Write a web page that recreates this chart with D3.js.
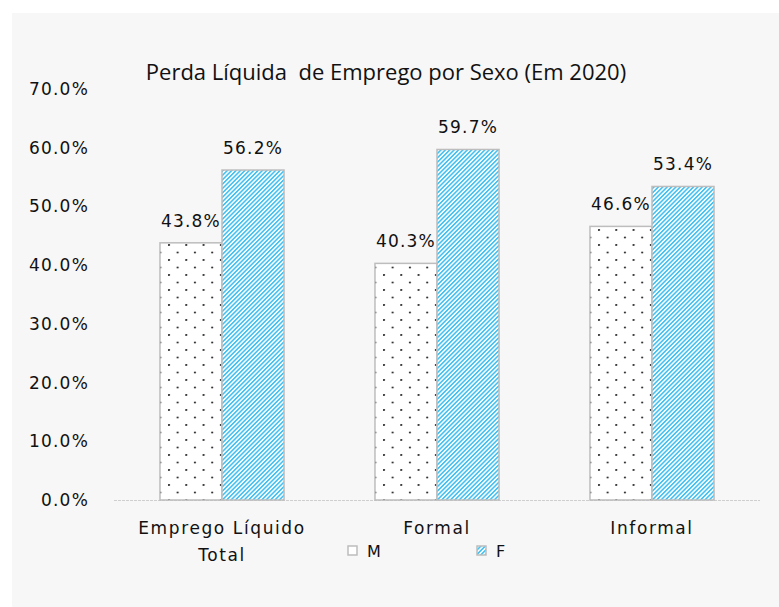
<!DOCTYPE html>
<html>
<head>
<meta charset="utf-8">
<script src="https://cdn.jsdelivr.net/npm/d3@7"></script>
<style>
  html, body { margin: 0; padding: 0; background: #ffffff; }
  svg { display: block; }
</style>
</head>
<body>
<script>
// ---- data ----
const categories = ["Emprego Líquido Total", "Formal", "Informal"];
const seriesNames = ["M", "F"];
const valuesM = [43.8, 40.3, 46.6];
const valuesF = [56.2, 59.7, 53.4];
const yTicks = [0, 10, 20, 30, 40, 50, 60, 70];
const titleText = "Perda Líquida  de Emprego por Sexo (Em 2020)";

const W = 779, H = 607;
const svg = d3.select("body").append("svg").attr("width", W).attr("height", H);

// patterns
const defs = svg.append("defs");
const dots = defs.append("pattern").attr("id", "dots").attr("patternUnits", "userSpaceOnUse")
  .attr("width", 17.3).attr("height", 15).attr("x", 8).attr("y", 4);
dots.append("rect").attr("width", 17.3).attr("height", 15).attr("fill", "#ffffff");
dots.append("circle").attr("cx", 1).attr("cy", 1).attr("r", 1.1).attr("fill", "#333333");
dots.append("circle").attr("cx", 9.65).attr("cy", 8.5).attr("r", 1.1).attr("fill", "#333333");

const hatch = defs.append("pattern").attr("id", "hatch").attr("patternUnits", "userSpaceOnUse")
  .attr("width", 3.1).attr("height", 3.1).attr("patternTransform", "rotate(45)");
hatch.append("rect").attr("width", 3.1).attr("height", 3.1).attr("fill", "#ffffff");
hatch.append("line").attr("x1", 0.8).attr("y1", -1).attr("x2", 0.8).attr("y2", 5)
  .attr("stroke", "#45c1f2").attr("stroke-width", 1.6);

// background
svg.append("rect").attr("x", 12).attr("y", 13).attr("width", W - 12).attr("height", H - 13).attr("fill", "#f7f7f7");

// scales
const y = d3.scaleLinear().domain([0, 70]).range([500, 89]);
const x0 = d3.scaleBand().domain(categories).range([114.5, 759.5]).paddingInner(0.423).paddingOuter(0.2115);
const x1 = d3.scaleBand().domain(seriesNames).range([0, x0.bandwidth()]);

const fills = { M: "url(#dots)", F: "url(#hatch)" };
const rows = categories.map((c, i) => ({ cat: c, vals: [{ s: "M", v: valuesM[i] }, { s: "F", v: valuesF[i] }] }));
const textColor = "#111111";

// title
svg.append("text").attr("x", 386).attr("y", 80).attr("text-anchor", "middle")
  .attr("font-family", "Open Sans").attr("font-size", 22).attr("fill", textColor)
  .attr("xml:space", "preserve").text(titleText);

// y axis labels
const yAxis = d3.axisLeft(y).tickValues(yTicks).tickSize(0).tickPadding(0)
  .tickFormat(d => d3.format(".1f")(d) + "%");
const gy = svg.append("g").attr("transform", "translate(89,0)").call(yAxis);
gy.select(".domain").remove();
gy.selectAll("text").attr("font-family", "DejaVu Sans").attr("font-size", 17)
  .attr("letter-spacing", 1.2).attr("fill", textColor);

// baseline
svg.append("line").attr("x1", 114).attr("x2", 760).attr("y1", y(0) + 0.5).attr("y2", y(0) + 0.5)
  .attr("stroke", "#cfcfcf").attr("stroke-width", 1).attr("stroke-dasharray", "3,1");

// bars
const groups = svg.selectAll("g.grp").data(rows).join("g").attr("class", "grp")
  .attr("transform", d => `translate(${x0(d.cat)},0)`);
groups.selectAll("rect").data(d => d.vals).join("rect")
  .attr("x", d => x1(d.s)).attr("width", x1.bandwidth())
  .attr("y", d => y(d.v)).attr("height", d => y(0) - y(d.v))
  .attr("fill", d => fills[d.s]).attr("stroke", "#bdbdbd").attr("stroke-width", 1.5);

// value labels
groups.selectAll("text.val").data(d => d.vals).join("text").attr("class", "val")
  .attr("x", d => x1(d.s) + x1.bandwidth() / 2).attr("y", d => y(d.v) - 22)
  .attr("dy", "0.35em").attr("text-anchor", "middle")
  .attr("font-family", "DejaVu Sans").attr("font-size", 17).attr("letter-spacing", 1.2)
  .attr("fill", textColor).text(d => d.v.toFixed(1) + "%");

// category labels with wrapping
const catG = svg.append("g");
categories.forEach(c => {
  const t = catG.append("text").attr("x", x0(c) + x0.bandwidth() / 2).attr("y", 534)
    .attr("text-anchor", "middle").attr("font-family", "DejaVu Sans").attr("font-size", 17)
    .attr("letter-spacing", 1.6).attr("fill", textColor);
  const words = c.split(" ");
  let lines = [], cur = [];
  const tmp = t.append("tspan");
  words.forEach(w => {
    cur.push(w);
    tmp.text(cur.join(" "));
    if (tmp.node().getComputedTextLength() > 200 && cur.length > 1) {
      cur.pop(); lines.push(cur.join(" ")); cur = [w];
    }
  });
  lines.push(cur.join(" "));
  tmp.remove();
  lines.forEach((l, i) => {
    t.append("tspan").attr("x", x0(c) + x0.bandwidth() / 2).attr("dy", i === 0 ? 0 : 27).text(l);
  });
});

// legend
const legendX = { M: 348, F: 477 };
const lg = svg.append("g");
seriesNames.forEach(s => {
  lg.append("rect").attr("x", legendX[s]).attr("y", 546).attr("width", 9).attr("height", 9)
    .attr("fill", fills[s]).attr("stroke", "#bdbdbd").attr("stroke-width", 1.5);
  lg.append("text").attr("x", legendX[s] + 19).attr("y", 551).attr("dy", "0.35em")
    .attr("font-family", "DejaVu Sans").attr("font-size", 16).attr("letter-spacing", 1)
    .attr("fill", textColor).text(s);
});
</script>
</body>
</html>
